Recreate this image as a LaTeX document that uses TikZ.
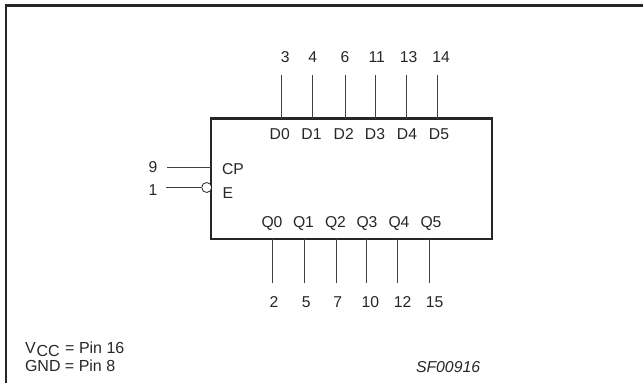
\documentclass[tikz,border=0pt]{standalone}
\usepackage{fontspec}
\setmainfont{Liberation Sans}
\tikzset{
  px/.style={x=1pt,y=-1pt},
  txt/.style={inner sep=0pt,outer sep=0pt,text=black!85,font=\fontsize{15.7}{17}\selectfont},
  pin/.style={line width=0.9pt,draw=black!75},
  heavy/.style={line width=2.2pt,draw=black!85},
  bubble/.style={circle,draw=black!85,fill=white,line width=0.8pt,minimum size=10pt,inner sep=0pt},
  chip/.style={rectangle,draw=black!85,line width=2.2pt,minimum width=281pt,minimum height=120.5pt,inner sep=0pt}
}
\begin{document}
\begin{tikzpicture}[px]
\useasboundingbox (0,0) rectangle (643,383);
% outer frame
\coordinate (fa) at (6,383);
\coordinate (fb) at (6,5.5);
\coordinate (fc) at (643,5.5);
\draw[heavy] (fa) -- (fb) -- (fc);
% chip
\node[chip] (box) at (351.5,178.8) {};
% top pins
\foreach \nm/\x/\nx/\lx/\pinno/\lab in {a/281/285.3/279.7/3/D0,b/312.3/312.7/311.5/4/D1,c/345/345/343.7/6/D2,d/375.3/376.7/375/11/D3,e/406.7/408.7/407/13/D4,f/437.3/441/439/14/D5}{
  \coordinate (t\nm) at (\x,75);
  \coordinate (j\nm) at (\x,118.5);
  \node[txt] (n\nm) at (\nx,57) {\pinno};
  \node[txt] (l\nm) at (\lx,134) {\lab};
  \draw[pin] (t\nm) -- (j\nm);
}
% bottom pins
\foreach \nm/\x/\nx/\lx/\pinno/\lab in {a/272.7/274/272/2/Q0,b/304/306.3/303.5/5/Q1,c/336.7/337.7/335.5/7/Q2,d/366.7/370.3/367/10/Q3,e/397.7/402.7/399/12/Q4,f/429/434.7/431/15/Q5}{
  \coordinate (u\nm) at (\x,239);
  \coordinate (v\nm) at (\x,282.7);
  \node[txt] (m\nm) at (\nx,301.7) {\pinno};
  \node[txt] (q\nm) at (\lx,223) {\lab};
  \draw[pin] (u\nm) -- (v\nm);
}
% control pins
\node[txt] (p9) at (153,167) {9};
\node[txt] (p1) at (153,190) {1};
\coordinate (s9) at (167,167.7);
\coordinate (e9) at (211,167.7);
\coordinate (s1) at (166,187.5);
\node[bubble] (inv) at (206.7,187.5) {};
\draw[pin] (s9) -- (e9);
\draw[pin] (s1) -- (inv);
\node[txt,anchor=west] (cp) at (222,169) {CP};
\node[txt,anchor=west] (en) at (222.5,193.5) {E};
% notes
\node[txt,anchor=base west,font=\fontsize{16}{18}\selectfont] (vcc) at (25,353) {V\kern1pt\raisebox{-3.7pt}{CC}\kern1pt{} = Pin 16};
\node[txt,anchor=base west,font=\fontsize{16}{18}\selectfont] (gnd) at (25,371.7) {GND = Pin 8};
\node[txt,anchor=base west,font=\fontsize{15.8}{18}\selectfont\itshape] (sf) at (416,372.3) {SF00916};
\end{tikzpicture}
\end{document}
